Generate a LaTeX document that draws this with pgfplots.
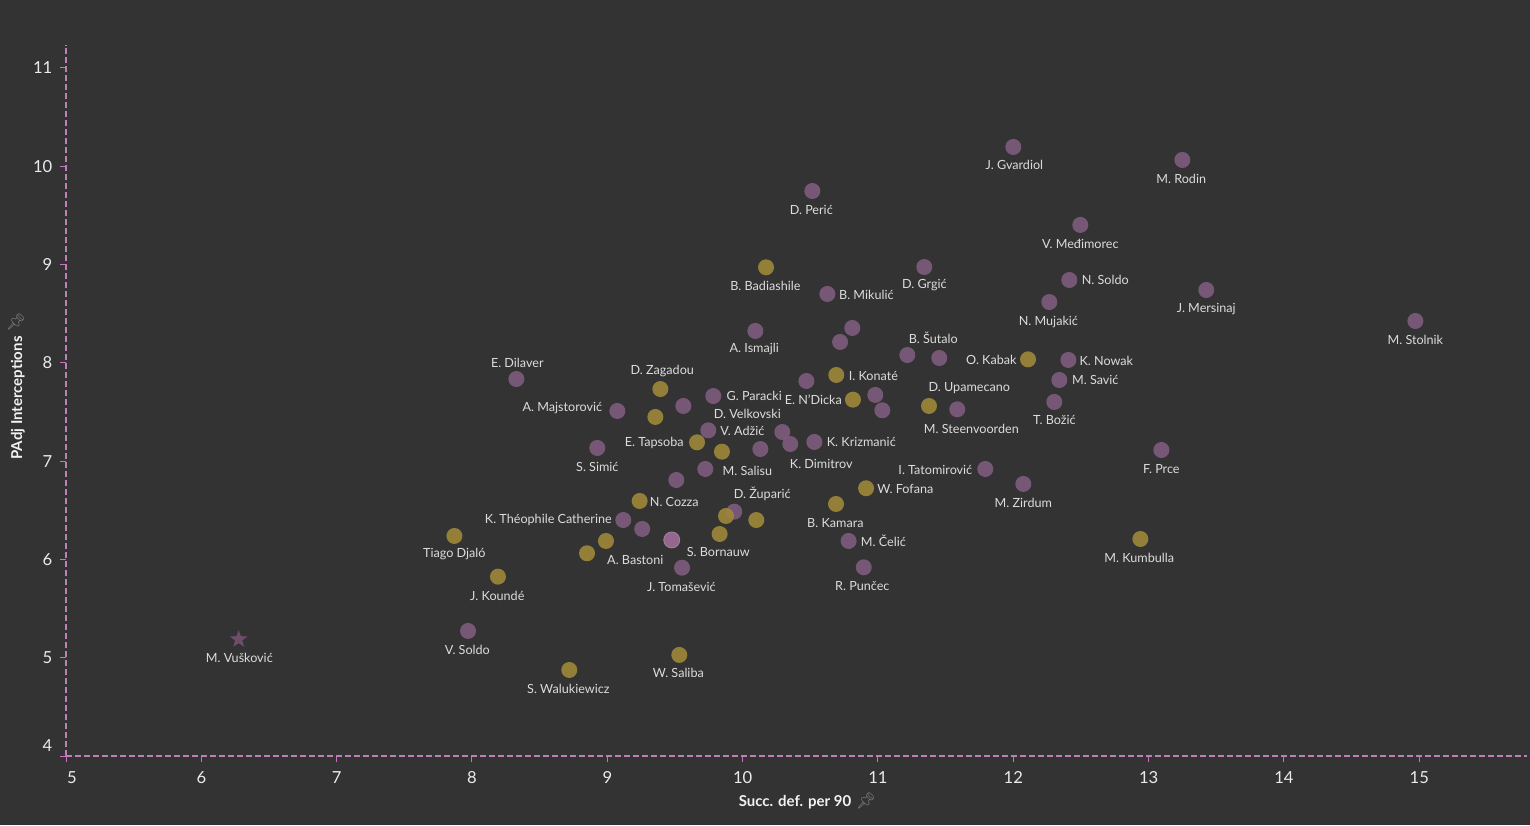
\documentclass[border=0pt]{standalone}
\usepackage{fontspec}
\setmainfont{Lato}
\newfontfamily\emojifont{Noto Emoji}
\usepackage{pgfplots}
\pgfplotsset{compat=1.18}

\definecolor{bg}{HTML}{333333}
\definecolor{pur}{RGB}{127,92,126}
\definecolor{purhl}{RGB}{150,103,142}
\definecolor{gld}{RGB}{161,138,56}
\definecolor{axpink}{RGB}{190,128,180}
\definecolor{tickpink}{RGB}{205,112,200}
\definecolor{lbl}{HTML}{DCDCDC}
\definecolor{pingray}{RGB}{120,126,136}

\pgfdeclareplotmark{fstar}{%
  \pgfpathmoveto{\pgfpointpolar{90}{\pgfplotmarksize}}%
  \pgfpathlineto{\pgfpointpolar{126}{0.42\pgfplotmarksize}}%
  \pgfpathlineto{\pgfpointpolar{162}{\pgfplotmarksize}}%
  \pgfpathlineto{\pgfpointpolar{198}{0.42\pgfplotmarksize}}%
  \pgfpathlineto{\pgfpointpolar{234}{\pgfplotmarksize}}%
  \pgfpathlineto{\pgfpointpolar{270}{0.42\pgfplotmarksize}}%
  \pgfpathlineto{\pgfpointpolar{306}{\pgfplotmarksize}}%
  \pgfpathlineto{\pgfpointpolar{342}{0.42\pgfplotmarksize}}%
  \pgfpathlineto{\pgfpointpolar{18}{\pgfplotmarksize}}%
  \pgfpathlineto{\pgfpointpolar{54}{0.42\pgfplotmarksize}}%
  \pgfpathclose
  \pgfusepathqfill}

\pgfplotstableread{
x y
12.000 10.197
13.249 10.065
10.515 9.749
12.495 9.404
11.342 8.976
12.414 8.844
10.626 8.702
12.266 8.620
13.426 8.742
14.971 8.427
10.094 8.326
10.810 8.356
10.720 8.214
11.217 8.081
11.453 8.051
12.407 8.031
12.340 7.827
12.303 7.604
8.328 7.837
9.074 7.512
9.562 7.563
9.783 7.664
10.471 7.817
10.980 7.675
11.032 7.519
11.586 7.529
9.746 7.315
10.293 7.298
10.352 7.176
8.926 7.136
10.131 7.125
10.530 7.197
9.724 6.922
9.510 6.810
11.793 6.922
12.074 6.770
13.094 7.115
9.118 6.403
9.258 6.312
9.938 6.488
9.552 5.918
10.783 6.190
10.895 5.922
7.971 5.275
}\purdata

\pgfplotstableread{
x y
10.173 8.973
12.109 8.037
10.692 7.878
10.815 7.627
11.377 7.563
9.392 7.735
9.355 7.451
9.663 7.193
9.847 7.098
10.912 6.726
10.690 6.566
9.239 6.597
9.877 6.444
10.101 6.403
9.830 6.261
8.990 6.190
8.850 6.065
7.870 6.241
8.192 5.827
8.719 4.878
9.532 5.031
12.939 6.210
}\glddata

\begin{document}
\begin{tikzpicture}[lab/.style={font=\fontsize{6.3}{7}\selectfont, text=lbl, inner sep=0pt, anchor=center}]
\fill[bg] (0pt,0pt) rectangle (765pt,412.5pt);
\begin{axis}[
  at={(33pt,34.35pt)}, anchor=south west,
  scale only axis, width=730.5pt, height=355.65pt,
  xmin=5, xmax=15.796, ymin=4, ymax=11.234,
  axis x line*=bottom, axis y line*=left,
  axis line style={axpink, line width=1pt, dash pattern=on 3pt off 1.5pt},
  xtick={6,...,15}, ytick={5,...,11},
  extra x ticks={5}, extra x tick style={xticklabel style={xshift=3pt}},
  extra y ticks={4}, extra y tick style={yticklabel style={yshift=5.5pt}},
  tick align=outside, major tick length=2.8pt,
  tick style={tickpink, line width=0.5pt},
  /pgf/number format/assume math mode=true,
  tick label style={font=\fontsize{8.3}{9}\selectfont, text=white!92!black},
  xticklabel style={yshift=-1.5pt},
  yticklabel style={xshift=-0.5pt},
  clip=false,
]
\addplot[only marks, color=pur, mark=*, mark size=4pt, mark options={draw=pur, fill=pur}, fill opacity=0.9, draw opacity=0] table {\purdata};
\addplot[only marks, color=purhl, mark=*, mark size=4pt, mark options={draw=purhl!85!white, line width=0.4pt, fill=purhl}] coordinates {(9.476,6.200)};
\addplot[only marks, color=pur!85!black, mark=fstar, mark size=4.6pt, mark options={fill=pur!85!black}] coordinates {(6.276,5.190)};
\addplot[only marks, color=gld, mark=*, mark size=4pt, mark options={draw=gld, fill=gld}, fill opacity=0.88, draw opacity=0] table {\glddata};

\node[lab] at (axis cs:12.008,10.014) {J. Gvardiol};
\node[lab] at (axis cs:13.241,9.871) {M. Rodin};
\node[lab] at (axis cs:10.507,9.556) {D. Perić};
\node[lab] at (axis cs:12.495,9.210) {V. Međimorec};
\node[lab] at (axis cs:11.343,8.793) {D. Grgić};
\node[lab] at (axis cs:12.680,8.844) {N. Soldo};
\node[lab] at (axis cs:10.914,8.692) {B. Mikulić};
\node[lab] at (axis cs:12.259,8.417) {N. Mujakić};
\node[lab] at (axis cs:13.426,8.549) {J. Mersinaj};
\node[lab] at (axis cs:14.971,8.234) {M. Stolnik};
\node[lab] at (axis cs:10.086,8.142) {A. Ismajli};
\node[lab] at (axis cs:10.168,8.783) {B. Badiashile};
\node[lab] at (axis cs:11.409,8.254) {B. Šutalo};
\node[lab] at (axis cs:11.838,8.031) {O. Kabak};
\node[lab] at (axis cs:12.687,8.020) {K. Nowak};
\node[lab] at (axis cs:12.606,7.827) {M. Savić};
\node[lab] at (axis cs:11.675,7.746) {D. Upamecano};
\node[lab] at (axis cs:12.303,7.420) {T. Božić};
\node[lab] at (axis cs:11.690,7.329) {M. Steenvoorden};
\node[lab] at (axis cs:8.335,8.000) {E. Dilaver};
\node[lab] at (axis cs:9.406,7.919) {D. Zagadou};
\node[lab] at (axis cs:10.966,7.868) {I. Konaté};
\node[lab] at (axis cs:10.086,7.664) {G. Paracki};
\node[lab] at (axis cs:10.522,7.624) {E. N’Dicka};
\node[lab] at (axis cs:8.668,7.542) {A. Majstorović};
\node[lab] at (axis cs:10.035,7.481) {D. Velkovski};
\node[lab] at (axis cs:9.998,7.309) {V. Adžić};
\node[lab] at (axis cs:9.347,7.187) {E. Tapsoba};
\node[lab] at (axis cs:10.877,7.197) {K. Krizmanić};
\node[lab] at (axis cs:8.926,6.942) {S. Simić};
\node[lab] at (axis cs:10.035,6.902) {M. Salisu};
\node[lab] at (axis cs:10.581,6.973) {K. Dimitrov};
\node[lab] at (axis cs:11.424,6.912) {I. Tatomirović};
\node[lab] at (axis cs:12.074,6.576) {M. Zirdum};
\node[lab] at (axis cs:13.094,6.922) {F. Prce};
\node[lab] at (axis cs:10.145,6.668) {D. Župarić};
\node[lab] at (axis cs:11.202,6.719) {W. Fofana};
\node[lab] at (axis cs:9.495,6.586) {N. Cozza};
\node[lab] at (axis cs:8.564,6.403) {K. Théophile Catherine};
\node[lab] at (axis cs:10.685,6.373) {B. Kamara};
\node[lab] at (axis cs:7.870,6.058) {Tiago Djaló};
\node[lab] at (axis cs:9.820,6.078) {S. Bornauw};
\node[lab] at (axis cs:9.207,5.997) {A. Bastoni};
\node[lab] at (axis cs:11.040,6.190) {M. Čelić};
\node[lab] at (axis cs:9.547,5.722) {J. Tomašević};
\node[lab] at (axis cs:10.884,5.732) {R. Punčec};
\node[lab] at (axis cs:12.931,6.017) {M. Kumbulla};
\node[lab] at (axis cs:8.187,5.631) {J. Koundé};
\node[lab] at (axis cs:7.966,5.081) {V. Soldo};
\node[lab] at (axis cs:6.281,5.000) {M. Vušković};
\node[lab] at (axis cs:8.712,4.685) {S. Walukiewicz};
\node[lab] at (axis cs:9.525,4.847) {W. Saliba};
\end{axis}
\node[font=\bfseries\fontsize{7.5}{8}\selectfont, text=white!95!black, inner sep=0pt] at (397.5pt,11.5pt) {Succ. def. per 90};
\node[font=\emojifont\fontsize{8}{9}\selectfont, text=pingray, inner sep=0pt] at (433pt,12pt) {📌};
\node[font=\bfseries\fontsize{7.5}{8}\selectfont, text=white!95!black, inner sep=0pt, rotate=90] at (9pt,213.5pt) {PAdj Interceptions};
\node[font=\emojifont\fontsize{8}{9}\selectfont, text=pingray, inner sep=0pt] at (8pt,251.5pt) {📌};
\pgfresetboundingbox
\path (0pt,0pt) rectangle (765pt,412.5pt);
\end{tikzpicture}
\end{document}
